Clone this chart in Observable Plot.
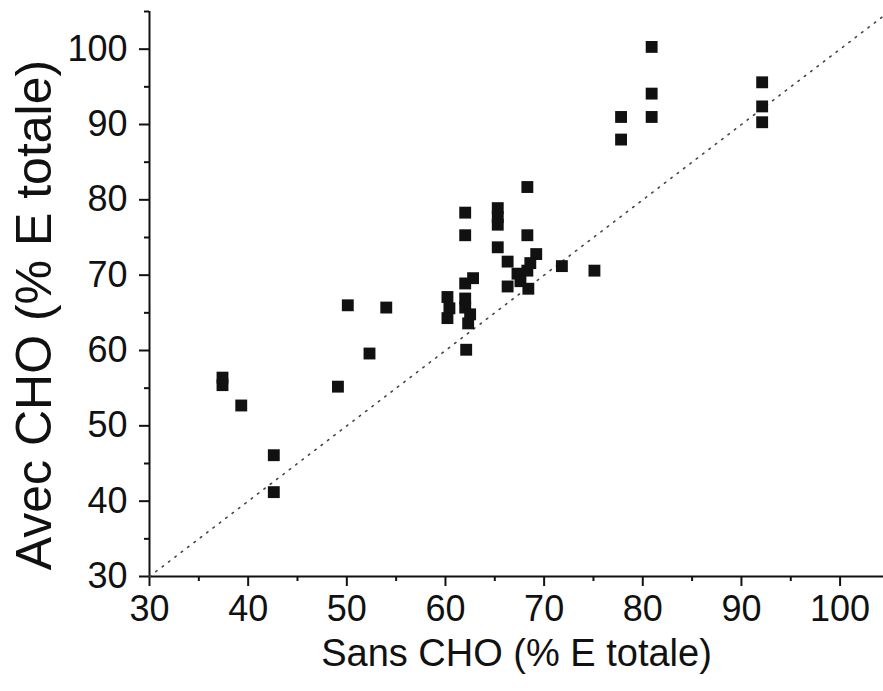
<!DOCTYPE html>
<html><head><meta charset="utf-8">
<script src="https://cdn.jsdelivr.net/npm/d3@7"></script>
<script src="https://cdn.jsdelivr.net/npm/@observablehq/plot@0.6"></script>
<style>body{margin:0;background:#fff}</style>
</head><body><div id="chart"></div>
<script>
const sansCHO = [37.4, 37.4, 39.3, 42.6, 42.6, 49.1, 50.1, 52.3, 54.0, 60.2, 60.4, 60.2,
  62.0, 62.0, 62.8, 62.0, 62.0, 62.0, 62.5, 62.3, 62.1, 65.3, 65.3, 65.3, 65.3, 66.3,
  66.3, 67.3, 67.6, 68.3, 68.3, 68.3, 68.6, 69.2, 68.4, 71.8, 75.1, 77.8, 77.8, 80.9,
  80.9, 80.9, 92.1, 92.1, 92.1];
const avecCHO = [56.4, 55.4, 52.7, 46.1, 41.2, 55.2, 66.0, 59.6, 65.7, 67.1, 65.6, 64.3,
  78.3, 75.3, 69.6, 68.9, 66.9, 65.7, 64.8, 63.6, 60.1, 78.9, 77.7, 76.7, 73.7, 71.8,
  68.5, 70.2, 69.2, 81.7, 75.3, 70.6, 71.6, 72.8, 68.2, 71.2, 70.6, 91.0, 88.0, 100.3,
  94.1, 91.0, 95.6, 92.4, 90.3];
const majorTicks = [30, 40, 50, 60, 70, 80, 90, 100];
const minorTicksX = [35, 45, 55, 65, 75, 85, 95];
const minorTicksY = [35, 45, 55, 65, 75, 85, 95, 105];
const diagonal = [30, 104.4];
const xTitle = "Sans CHO (% E totale)";
const yTitle = "Avec CHO (% E totale)";

const points = sansCHO.map((x, i) => ({x, y: avecCHO[i]}));
const ink = "#111";

const chart = Plot.plot({
  width: 883, height: 691,
  marginLeft: 149, marginRight: 0, marginTop: 11, marginBottom: 115,
  x: {domain: [30, 104.4], label: null},
  y: {domain: [30, 105], label: null},
  style: {fontFamily: "'Liberation Sans', Arial, sans-serif", fontSize: "36px", background: "#fff", color: ink},
  marks: [
    Plot.axisX(majorTicks, {tickSize: 10, tickPadding: 9, strokeWidth: 2, label: null}),
    Plot.axisX(minorTicksX, {tickSize: 5, strokeWidth: 2, tickFormat: () => "", label: null}),
    Plot.axisY(majorTicks, {tickSize: 10, tickPadding: 12, strokeWidth: 2, label: null}),
    Plot.axisY(minorTicksY, {tickSize: 5, strokeWidth: 2, tickFormat: () => "", label: null}),
    Plot.ruleX([30], {stroke: ink, strokeWidth: 2}),
    Plot.ruleY([30], {stroke: ink, strokeWidth: 2}),
    Plot.line(diagonal, {x: d => d, y: d => d, stroke: "#444", strokeWidth: 1.6, strokeDasharray: "1.5,6.5"}),
    Plot.dot(points, {x: "x", y: "y", symbol: "square", r: 6.7, fill: ink, stroke: "none"}),
    Plot.text([xTitle], {frameAnchor: "bottom", dy: 89, fontSize: 38, fill: ink}),
    Plot.text([yTitle], {frameAnchor: "left", textAnchor: "middle", rotate: -90, dx: -115, dy: 21, fontSize: 50, fill: ink})
  ]
});
document.getElementById("chart").appendChild(chart);
</script>
</body></html>
